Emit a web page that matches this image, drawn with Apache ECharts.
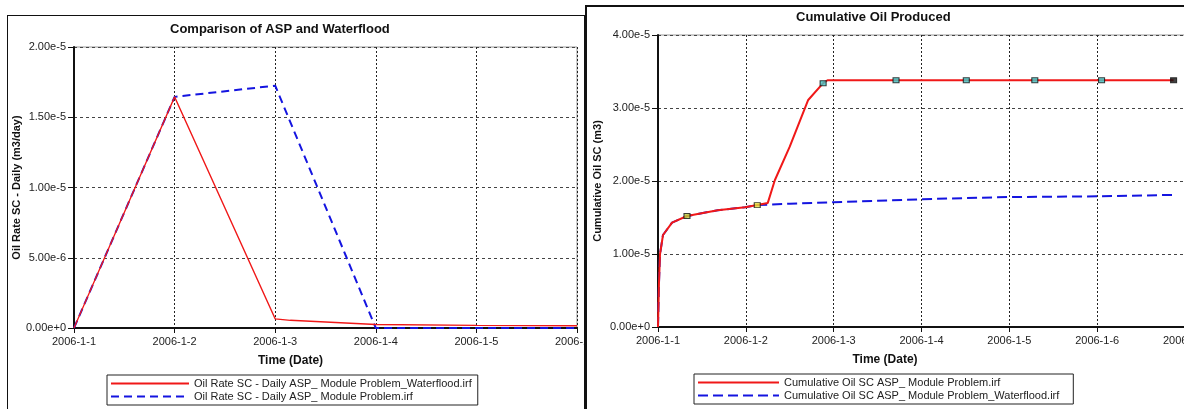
<!DOCTYPE html>
<html>
<head>
<meta charset="utf-8">
<script src="https://cdn.jsdelivr.net/npm/echarts@6/dist/echarts.min.js"></script>
<style>
html,body{margin:0;padding:0;width:1184px;height:409px;overflow:hidden;background:#fff;}
#left{position:absolute;left:7px;top:15px;width:576px;height:400px;border-left:1px solid #111;border-top:1px solid #111;border-right:2px solid #111;}
#right{position:absolute;left:585px;top:5px;width:620px;height:410px;border-left:2px solid #111;border-top:2px solid #111;}
</style>
</head>
<body>
<div id="left"></div>
<div id="right"></div>
<script>
// ---- Left chart data: Oil Rate SC - Daily (days after 2006-1-1) ----
const rateWaterfloodDays = [0, 1, 2, 2.15, 3, 4, 5];
const rateWaterflood = [0, 1.645e-5, 6.5e-7, 5.5e-7, 2.5e-7, 1.8e-7, 1.6e-7];
const rateAspDays = [0, 1, 2, 3, 4, 5];
const rateAsp = [0, 1.645e-5, 1.725e-5, 0, 0, 0];

// ---- Right chart data: Cumulative Oil SC ----
const cumAspDays = [0, 0.011, 0.023, 0.057, 0.16, 0.33, 0.68, 0.99, 1.13, 1.25, 1.33, 1.5, 1.71, 1.88, 1.93, 2.71, 3.51, 4.29, 5.05, 5.87];
const cumAsp = [0, 6e-6, 1.0e-5, 1.26e-5, 1.43e-5, 1.52e-5, 1.60e-5, 1.64e-5, 1.67e-5, 1.70e-5, 2.01e-5, 2.47e-5, 3.11e-5, 3.34e-5, 3.38e-5, 3.38e-5, 3.38e-5, 3.38e-5, 3.38e-5, 3.38e-5];
const cumWaterfloodDays = [0, 0.011, 0.023, 0.057, 0.16, 0.33, 0.68, 0.99, 1.13, 1.5, 2.0, 3.0, 4.0, 5.0, 5.87];
const cumWaterflood = [0, 6e-6, 1.0e-5, 1.26e-5, 1.43e-5, 1.52e-5, 1.60e-5, 1.64e-5, 1.67e-5, 1.69e-5, 1.71e-5, 1.75e-5, 1.78e-5, 1.79e-5, 1.81e-5];
const markerDays = [0.33, 1.13, 1.88, 2.71, 3.51, 4.29, 5.05, 5.87];
const markerValues = [1.52e-5, 1.67e-5, 3.34e-5, 3.38e-5, 3.38e-5, 3.38e-5, 3.38e-5, 3.38e-5];

// ---- Text ----
const leftTitle = 'Comparison of ASP and Waterflood';
const leftYName = 'Oil Rate SC - Daily (m3/day)';
const leftNames = ['Oil Rate SC - Daily ASP_ Module Problem_Waterflood.irf', 'Oil Rate SC - Daily ASP_ Module Problem.irf'];
const rightTitle = 'Cumulative Oil Produced';
const rightYName = 'Cumulative Oil SC (m3)';
const rightNames = ['Cumulative Oil SC ASP_ Module Problem.irf', 'Cumulative Oil SC ASP_ Module Problem_Waterflood.irf'];
const xName = 'Time (Date)';

const FONT = '"Liberation Sans", Arial, sans-serif';
const RED = '#f01818';
const BLUE = '#1414e0';

function zip(xs, ys){ return xs.map((x,i)=>[x, ys[i]]); }
const dateFmt = v => '2006-1-' + (Math.round(v) + 1);
const expFmt = v => Number(v).toExponential(2);

function xAxis(max, padRight){
  return {
    type:'value', min:0, max:max, interval:1,
    name:xName, nameLocation:'middle', nameGap:27, nameMoveOverlap:false,
    nameTextStyle:{fontFamily:FONT, fontSize:12, fontWeight:'bold', color:'#111', padding:[0,padRight,0,0]},
    axisLine:{show:true, onZero:false, lineStyle:{color:'#111', width:2}},
    axisTick:{show:true, length:5, lineStyle:{color:'#111'}},
    axisLabel:{formatter:dateFmt, fontFamily:FONT, fontSize:11, color:'#222', margin:8, showMaxLabel:true},
    splitLine:{show:true, lineStyle:{color:'#222', type:[2,2], width:1}}
  };
}
function yAxis(max, interval, name, gap){
  return {
    type:'value', min:0, max:max, interval:interval,
    name:name, nameLocation:'middle', nameGap:gap, nameRotate:90, nameMoveOverlap:false,
    nameTextStyle:{fontFamily:FONT, fontSize:11, fontWeight:'bold', color:'#111'},
    axisLine:{show:true, lineStyle:{color:'#111', width:2}},
    axisTick:{show:true, length:6, lineStyle:{color:'#111'}},
    axisLabel:{formatter:expFmt, fontFamily:FONT, fontSize:11, color:'#222', margin:8},
    splitLine:{show:true, lineStyle:{color:'#444', type:[3,3], width:1}}
  };
}
function legend(left, top, width, names, padR){
  return {
    left:left, top:top, orient:'vertical', data:names,
    itemWidth:width, itemHeight:12, itemGap:2,
    padding:[3,padR,3,3], borderColor:'#222', borderWidth:1, borderRadius:0,
    backgroundColor:'#fff',
    itemStyle:{opacity:0},
    textStyle:{fontFamily:FONT, fontSize:11, color:'#222'}
  };
}

const leftChart = echarts.init(document.getElementById('left'));
leftChart.setOption({
  animation:false,
  backgroundColor:'#fff',
  title:{text:leftTitle, left:162, top:7, padding:0, textStyle:{fontFamily:FONT, fontSize:13, fontWeight:'bold', color:'#111'}},
  grid:{left:66, top:31, width:503, height:281, show:true, borderColor:'#999', borderWidth:1, containLabel:false, outerBoundsMode:'none'},
  xAxis:xAxis(5, 70),
  yAxis:yAxis(2e-5, 5e-6, leftYName, 52),
  legend:legend(99, 359, 78, leftNames, 6),
  series:[
    {name:leftNames[0], type:'line', data:zip(rateWaterfloodDays, rateWaterflood), symbol:'none', z:3,
     lineStyle:{color:RED, width:1.3}, itemStyle:{color:RED}},
    {name:leftNames[1], type:'line', data:zip(rateAspDays, rateAsp), symbol:'none', z:2,
     lineStyle:{color:BLUE, width:2, type:[8,5]}, itemStyle:{color:BLUE}}
  ]
});

const rightChart = echarts.init(document.getElementById('right'));
rightChart.setOption({
  animation:false,
  backgroundColor:'#fff',
  title:{text:rightTitle, left:209, top:4, padding:0, textStyle:{fontFamily:FONT, fontSize:13, fontWeight:'bold', color:'#111'}},
  grid:{left:71, top:28, width:527, height:292, show:true, borderColor:'#999', borderWidth:1, containLabel:false, outerBoundsMode:'none'},
  xAxis:xAxis(6, 73),
  yAxis:yAxis(4e-5, 1e-5, rightYName, 55),
  legend:legend(107, 367, 81, rightNames, 14),
  series:[
    {name:rightNames[0], type:'line', data:zip(cumAspDays, cumAsp), symbol:'none', z:3,
     lineStyle:{color:RED, width:2}, itemStyle:{color:RED}},
    {name:rightNames[1], type:'line', data:zip(cumWaterfloodDays, cumWaterflood), symbol:'none', z:2,
     lineStyle:{color:BLUE, width:2, type:[10,5]}, itemStyle:{color:BLUE}},
    {name:'markers', type:'scatter', data:zip(markerDays, markerValues), symbol:'rect', symbolSize:[6,5], z:4,
     itemStyle:{color:function(p){ return p.dataIndex===0 ? '#b8d040' : (p.dataIndex===1 ? '#e0e040' : (p.dataIndex===markerDays.length-1 ? '#111' : '#40c8c8')); }, borderColor:'#111', borderWidth:1}}
  ]
});
</script>
</body>
</html>
